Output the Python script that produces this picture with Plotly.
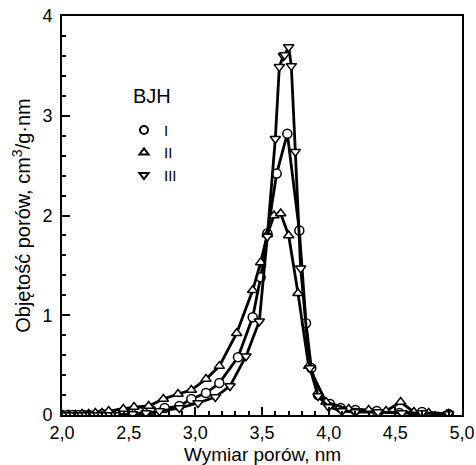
import plotly.graph_objects as go

# BJH pore size distributions
x_I = [2.00, 2.04, 2.08, 2.12, 2.16, 2.20, 2.25, 2.30, 2.36, 2.43, 2.50, 2.58, 2.67, 2.77,
       2.88, 2.97, 3.08, 3.18, 3.32, 3.43, 3.49, 3.54, 3.61, 3.69, 3.78, 3.83, 3.87, 3.92,
       4.01, 4.09, 4.20, 4.36, 4.53, 4.70, 4.90]
y_I = [0.0, 0.0, 0.0, 0.0, 0.0, 0.0, 0.0, 0.01, 0.01, 0.02, 0.02, 0.03, 0.05, 0.07,
       0.09, 0.16, 0.22, 0.32, 0.58, 0.98, 1.38, 1.82, 2.42, 2.82, 1.85, 0.92, 0.47, 0.20,
       0.11, 0.07, 0.05, 0.04, 0.02, 0.03, 0.01]

x_II = [2.00, 2.05, 2.10, 2.15, 2.20, 2.25, 2.30, 2.35, 2.46, 2.54, 2.65, 2.76, 2.87, 2.97,
        3.08, 3.18, 3.31, 3.43, 3.49, 3.54, 3.59, 3.64, 3.70, 3.77, 3.85, 3.98, 4.15, 4.30,
        4.43, 4.54, 4.64, 4.75, 4.90]
y_II = [0.0, 0.0, 0.0, 0.01, 0.01, 0.02, 0.02, 0.04, 0.06, 0.08, 0.09, 0.16, 0.21, 0.25,
        0.36, 0.49, 0.82, 1.25, 1.53, 1.81, 2.00, 2.02, 1.80, 1.22, 0.49, 0.13, 0.06, 0.05,
        0.04, 0.13, 0.03, 0.02, 0.01]

x_III = [2.00, 2.03, 2.06, 2.09, 2.12, 2.15, 2.18, 2.21, 2.24, 2.27, 2.30, 2.33, 2.36, 2.40,
         2.53, 2.63, 2.73, 2.88, 3.02, 3.15, 3.26, 3.38, 3.48, 3.54, 3.60, 3.63, 3.66, 3.67,
         3.70, 3.72, 3.75, 3.79, 3.86, 3.92, 4.00, 4.10, 4.20, 4.37, 4.55, 4.70, 4.90]
y_III = [0.0, 0.0, 0.0, 0.0, 0.0, 0.0, 0.0, 0.0, 0.0, 0.0, 0.0, 0.0, 0.0, 0.0,
         0.01, 0.02, 0.04, 0.07, 0.12, 0.18, 0.29, 0.59, 0.94, 1.79, 2.77, 3.49, 3.60, 3.61,
         3.69, 3.50, 2.64, 1.47, 0.47, 0.19, 0.08, 0.04, 0.03, 0.03, 0.02, 0.02, 0.01]

series = [
    ('I', x_I, y_I, 'circle'),
    ('II', x_II, y_II, 'triangle-up'),
    ('III', x_III, y_III, 'triangle-down'),
]

FONT = 'Liberation Sans, Arial'

fig = go.Figure()

for name, xs, ys, sym in series:
    fig.add_trace(go.Scatter(
        x=xs, y=ys, mode='lines+markers', showlegend=False,
        line=dict(color='black', width=2.8),
        marker=dict(symbol=sym, size=9, color='white',
                    line=dict(color='black', width=1.5))
    ))

#legend entries, markers only
for name, xs, ys, sym in series:
    fig.add_trace(go.Scatter(
        x=[None], y=[None], mode='markers', name=name,
        marker=dict(symbol=sym, size=8, color='white',
                    line=dict(color='black', width=2))
    ))

fig.add_annotation(
    text='BJH', x=2.675, y=3.2, xref='x', yref='y', showarrow=False,
    font=dict(family=FONT, size=20, color='black')
)

#x axis title as annotation so it sits at the page bottom
fig.add_annotation(
    text='Wymiar porów, nm', x=0.5, y=-0.1, xref='paper', yref='paper',
    xanchor='center', yanchor='middle', showarrow=False,
    font=dict(family=FONT, size=19, color='black')
)

axis_common = dict(
    showline=True, linecolor='black', linewidth=2, mirror=True,
    ticks='inside', ticklen=8, tickwidth=2, tickcolor='black',
    showgrid=False, zeroline=False, automargin=False,
    tickfont=dict(family=FONT, size=18, color='black'),
)

fig.update_layout(
    width=476, height=465,
    margin=dict(l=62, r=14, t=16, b=50),
    plot_bgcolor='white', paper_bgcolor='white',
    separators=',.',
    showlegend=True,
    legend=dict(
        x=0.155, y=0.755, xanchor='left', yanchor='top',
        bgcolor='rgba(0,0,0,0)', tracegroupgap=0, itemwidth=30,
        font=dict(family=FONT, size=15, color='#000000'),
    ),
    xaxis=dict(
        range=[2.0, 5.0], dtick=0.5, tick0=2.0, tickformat='.1f',
        minor=dict(dtick=0.1, ticklen=4, tickwidth=1.5, tickcolor='black', ticks='inside'),
        **axis_common
    ),
    yaxis=dict(
        range=[0, 4], dtick=1, tick0=0, ticklabelstandoff=4,
        minor=dict(dtick=0.2, ticklen=4, tickwidth=1.5, tickcolor='black', ticks='inside'),
        title=dict(text='Objętość porów, cm<sup>3</sup>/g·nm', standoff=6,
                   font=dict(family=FONT, size=20, color='black')),
        **axis_common
    ),
)

fig.write_html("out.html", config={'displayModeBar': False},
               post_script="document.body.style.margin='0';")
